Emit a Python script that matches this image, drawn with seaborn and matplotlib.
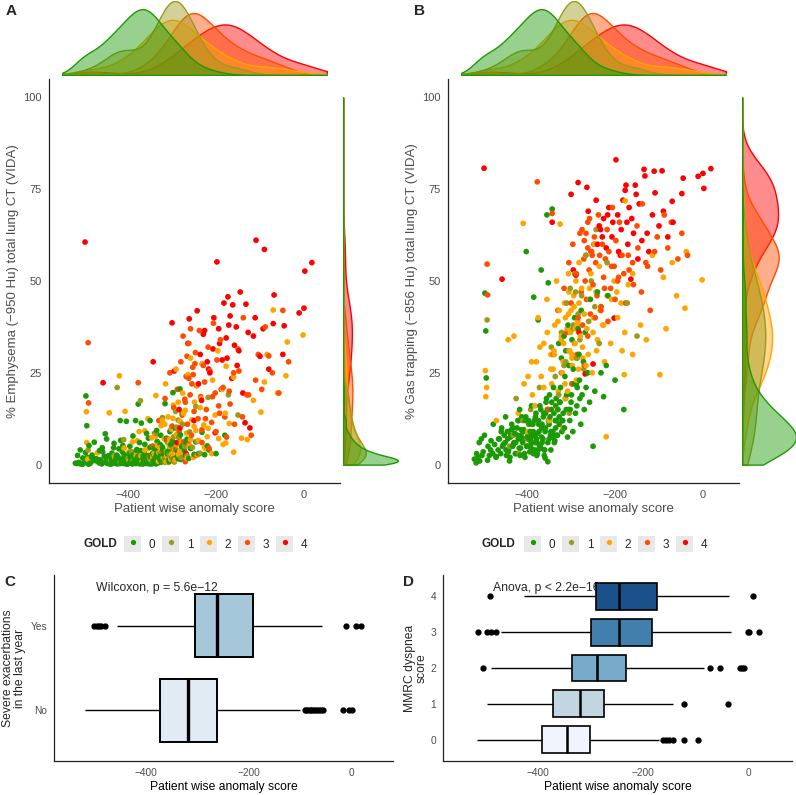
import pandas as pd
import seaborn as sns
import matplotlib.pyplot as plt
from matplotlib.patches import Patch
from matplotlib.lines import Line2D

W, H = 796, 795

gold0_score = [-520, -386, -516, -378, -512, -369, -508, -361, -504, -353, -500, -346, -496, -494, -493, -392, -490, -384, -486, -375,
               -482, -367, -478, -359, -474, -351, -470, -343, -466,
               -463, -460, -458, -456, -452, -450, -447, -445, -442, -440, -438, -435, -433, -430, -428, -425, -423, -420, -418, -416,
               -414, -412, -410, -408, -406, -404, -402, -401, -399,
               -397, -395, -393, -391, -389, -387, -385, -383, -381, -379, -377, -375, -373, -371, -370, -368, -366, -364, -362, -360,
               -358, -356, -355, -354, -352, -350, -348, -346, -344, -343, -342, -340, -338, -336, -334, -332, -330,
               -328, -326, -324, -322, -320, -316, -314, -312, -310, -307, -305, -302, -298, -295, -292, -288, -284, -282, -280, -277,
               -272, -268, -262, -256, -250, -246, -240, -232, -226, -220, -216, -200, -180,
               -448, -444, -439, -436, -431, -427, -422, -419, -415, -411, -409, -405, -403, -400, -398, -396, -394, -392, -390, -388,
               -386, -384, -382, -380, -378, -376, -374, -372, -369, -367, -365, -363, -361, -359, -357, -353, -351, -349, -347, -345,
               -341, -339, -337, -335, -333, -331, -327, -325, -321, -318, -315, -311, -308, -303, -300, -296, -290, -286, -278, -270,
               -515, -509, -503, -497, -489, -483, -477, -471, -465, -459, -454, -449, -443, -437, -432, -426, -421, -417, -413, -407,
               -396, -389, -381, -374, -366, -358, -350, -342, -335, -327, -319, -313, -306, -299, -293, -287, -281, -275, -266, -258]
gold0_emph = [0.4, 1.0, 0.3, 2.2, 0.6, 0.8, 0.2, 1.5, 0.1, 0.9, 0.5, 1.2, 18.7, 10.6, 2.0, 0.7, 0.1, 1.8, 0.4, 0.7,
              2.6, 0.3, 1.1, 0.4, 1.6, 0.2, 0.9, 2.8, 0.5,
              1.3, 0.2, 3.5, 0.6, 8.4, 1.0, 0.3, 2.4, 0.8, 0.1, 1.7, 0.4, 4.6, 0.6, 1.4, 0.2, 2.1, 0.9, 12.0, 0.4,
              1.5, 5.2, 0.3, 2.3, 0.7, 11.8, 1.1, 0.2, 3.0,
              0.5, 1.9, 0.8, 0.3, 2.6, 0.6, 1.4, 12.0, 0.4, 2.0, 16.5, 1.0, 0.2, 3.8, 11.3, 0.7, 1.6, 0.3, 5.5, 0.9,
              2.1, 0.4, 1.3, 7.2, 0.6, 12.0, 1.8, 0.2, 3.1, 0.8, 1.2, 4.4, 0.5, 2.4, 6.3, 0.9, 3.6,
              1.5, 8.0, 0.7, 4.8, 2.2, 16.6, 1.1, 6.5, 2.9, 0.8, 9.0, 3.3, 19.6, 1.6, 5.7, 2.4, 7.5, 20.6, 1.4, 14.0,
              3.9, 6.0, 1.7, 4.5, 2.8, 6.2, 3.0, 8.8, 2.7, 5.1, 4.0, 3.0, 8.0,
              0.5, 1.1, 0.2, 0.9, 0.4, 2.0, 0.6, 0.3, 1.2, 0.5, 2.7, 0.8, 0.1, 1.6, 0.4, 3.2, 0.7, 1.3, 0.2, 2.2,
              0.5, 1.0, 0.3, 4.1, 0.6, 1.7, 0.4, 2.9, 0.9, 0.2, 1.5, 3.4, 0.5, 1.1, 0.3, 2.5, 0.8, 1.9, 0.4, 5.0,
              0.6, 1.4, 0.2, 3.0, 1.0, 0.5, 2.3, 0.9, 4.2, 1.3, 0.7, 3.5, 1.2, 5.4, 2.0, 0.9, 3.8, 1.6, 4.9, 2.5,
              2.5, 4.0, 1.8, 3.3, 5.2, 2.0, 6.1, 1.5, 3.8, 4.6, 2.3, 7.0, 1.9, 3.1, 5.8, 2.6, 4.3, 6.6, 3.5, 2.1,
              5.0, 7.8, 3.9, 6.0, 2.4, 8.5, 4.7, 3.2, 9.3, 5.5, 2.8, 7.2, 4.0, 6.4, 10.0, 3.6, 8.1, 5.3, 6.9, 4.4]
gold0_gas = [1.5, 3, 0.5, 6, 2, 4.5, 1, 2.5, 7, 0.8, 3.5, 9, 46.7, 36.4, 23.6, 5, 1.2, 8, 2.5, 4,
             6.5, 10, 3, 1.8, 5.5, 12, 2.2, 7.5, 4,
             7, 3, 10, 5, 8, 6, 2.5, 9, 4, 1, 7.5, 11, 5, 6, 8.5, 3, 10, 7, 4.5, 2.5,
             8, 13, 6, 9.5, 3, 12, 58, 5, 7.5,
             12, 5, 9, 6, 8, 11, 45.6, 4, 13, 7, 3, 39.4, 9, 16, 5, 53, 11, 7, 14, 4,
             10, 18, 68, 15, 49.5, 7, 13, 4, 17, 69.6, 9, 21, 6, 12, 18, 8, 15,
             33, 17, 21, 29, 12, 35, 24, 31, 19, 38, 27, 15, 34, 26, 40, 22, 37, 30, 18, 42,
             28, 36, 25, 45, 5, 20, 47, 25, 18.5, 27, 46, 23, 15,
             4, 7, 2, 9.5, 5.5, 3, 8, 12, 4.5, 6.5, 9, 2, 13, 5, 8, 11, 3.5, 7, 16, 4,
             9, 12, 6, 14, 2.5, 8.5, 11, 5, 15, 7.5, 10, 13, 4, 9, 17, 6, 12, 19, 8, 15,
             8, 14, 6.5, 10, 12, 8, 11, 17, 9, 14, 10, 15, 7.5, 12, 17, 9, 14, 21, 11, 15,
             3, 6, 2.5, 8, 5, 4, 11, 2, 7, 9, 5.5, 13, 3.5, 8, 10, 6, 12, 15, 9.5, 7,
             7, 11, 8, 12, 6, 14, 11, 9, 16, 13, 12, 18, 15, 19, 22, 16, 23, 19, 21, 17]

gold1_score = [-491, -440, -432, -425, -418, -410, -400, -392, -372, -345, -336, -328, -322, -318, -316, -312, -310, -306, -304, -302,
               -298, -296, -295, -292, -290, -288, -286, -284, -280, -276, -271, -266, -260, -254, -246, -243, -236, -218, -172, -150]
gold1_emph = [4.0, 1.2, 2.5, 21.0, 0.6, 6.8, 1.8, 3.5, 17.4, 1.0, 8.5, 3.0, 12.8, 0.9, 1.6, 2.2, 6.0, 2.8, 5.5, 9.7,
              4.3, 7.6, 0.7, 14.5, 10.2, 3.8, 12.1, 7.2, 1.9, 11.0, 5.0, 2.4, 8.9, 4.7, 15.8, 6.3, 3.1, 18.3, 19.0, 13.5]
gold1_gas = [39.4, 5, 8, 18, 3, 12, 7, 15, 21, 32, 24, 19, 36, 10, 27, 28, 44, 31, 14, 48,
             22, 37, 38, 52, 47, 29, 29, 41, 34, 46, 26, 57, 39, 50, 43, 64, 33, 55, 44, 35]

gold2_score = [-495, -494, -492, -470, -443, -430, -420, -409, -407, -398,
               -390, -382, -375, -368, -362, -355, -350,
               -346, -344, -341, -339, -337, -333, -331, -329, -327, -325,
               -322, -320, -318, -317, -315, -313, -312, -309, -308, -306,
               -305, -303, -301, -300, -298, -297, -294, -293, -291, -289,
               -288, -286, -285, -283, -282, -279, -276, -273, -270, -267,
               -264, -261, -258, -255, -252, -249, -246, -243, -240, -236,
               -232, -228, -224, -220, -208, -196, -184, -179, -177, -160,
               -142, -129, -115, -98, -90, -84, -70, -60, -41, -38,
               -2,
               -398, -388, -379, -371, -362, -354, -346, -338, -330, -322,
               -314, -306, -298, -290, -282, -274, -266, -258, -250, -242,
               -234, -226, -218, -210, -202, -194, -186, -178, -170, -160]
gold2_emph = [14.4, 6.0, 1.5, 3.2, 14.1, 2.0, 24.2, 4.5, 14.5, 1.0,
              6.2, 2.5, 9.0, 0.8, 4.0, 12.5, 1.6,
              7.3, 2.2, 3.0, 8.0, 18.8, 5.2, 0.9, 1.2, 4.6, 10.6,
              3.8, 1.8, 7.0, 11.0, 22.0, 3.6, 2.3, 13.0, 0.6, 5.8,
              6.9, 1.5, 2.9, 9.6, 12.6, 16.2, 4.1, 1.3, 26.0, 5.4,
              7.9, 17.0, 2.7, 3.0, 11.8, 6.0, 19.5, 3.4, 14.8, 8.6,
              24.5, 5.1, 29.0, 12.2, 2.0, 17.0, 9.3, 21.7, 6.6, 15.5,
              27.5, 10.8, 4.3, 7.6, 23.0, 31.0, 5.5, 14.0, 26.8, 23.8,
              7.2, 6.8, 17.5, 14.3, 22.5, 30.0, 42.1, 19.5, 24.2, 33.4,
              35.3,
              3.5, 1.0, 6.5, 2.4, 9.2, 4.4, 1.1, 7.8, 3.2, 12.0,
              0.8, 5.0, 2.1, 8.3, 3.9, 14.0, 1.7, 6.8, 10.4, 2.6,
              18.0, 4.7, 9.9, 3.0, 13.5, 7.1, 20.5, 5.9, 11.2, 3.4]
gold2_gas = [25.6, 18.5, 21, 12, 34, 35, 14, 65.7, 22, 9,
             28, 16, 40, 24, 33, 45, 12,
             30, 22, 26, 31, 38, 50, 15, 20, 42, 65.5,
             35, 25, 28, 33, 44, 40, 18, 37, 20, 52,
             47, 31, 36, 42, 30, 27, 46, 43, 33, 50,
             23, 38, 39, 26, 55, 35, 48, 29, 41, 57,
             37, 30, 45, 52, 25, 40, 60, 47, 34, 54,
             43, 38, 28, 7.6, 45, 47, 31, 24.5, 71.8, 52,
             38, 34, 57, 24.5, 51, 37, 55, 46, 42.6, 58,
             50.3,
             24, 19, 28, 32, 21, 36, 26, 30, 39, 34,
             22, 41, 29, 37, 44, 32, 27, 48, 36, 31,
             42, 38, 46, 33, 50, 40, 44, 36, 49, 30]

gold3_score = [-491, -490, -377, -352, -343, -340, -330, -322, -316, -310,
               -305, -300, -298, -296, -292, -288, -286, -284, -280, -277,
               -275, -274, -271, -270, -270, -268, -266, -265, -262, -262,
               -262, -259, -258, -256, -255, -253, -252, -250, -248, -247,
               -245, -244, -241, -238, -235, -232, -229, -226, -222, -218,
               -214, -210, -206, -202, -198, -194, -190, -180, -170, -160,
               -150, -138, -126, -104, -96, -88, -80, -72, -57, -48,
               -35,
               -232, -224, -216, -208, -200, -192, -184, -176, -168, -158, -148, -140, -130, -120, -110]
gold3_emph = [33.2, 16.8, 22.3, 2.0, 5.0, 8.5, 12.0, 3.5, 18.0, 7.0,
              25.0, 10.5, 1.5, 15.5, 4.2, 20.5, 3.0, 9.0, 28.0, 13.5,
              35.0, 6.2, 17.8, 0.8, 17.0, 24.0, 29.5, 11.0, 33.0, 23.5,
              5.5, 19.0, 37.0, 8.0, 22.0, 26.5, 24.5, 14.5, 27.5, 30.5,
              2.5, 21.5, 12.5, 36.5, 18.5, 9.5, 27.0, 22.5, 15.0, 32.0,
              25.5, 11.5, 38.5, 19.5, 28.5, 16.0, 34.0, 13.0, 20.0, 25.0,
              31.5, 40.0, 19.0, 30.0, 20.5, 37.5, 29.6, 25.0, 19.5, 42.0,
              28.0,
              6.0, 12.5, 4.5, 18.5, 9.0, 14.0, 21.0, 7.5, 16.5, 11.0, 25.5, 13.0, 19.0, 8.0, 23.0]
gold3_gas = [54.6, 46.2, 77, 15, 68.4, 30, 42, 25, 48, 36,
             55, 44, 22, 60, 33, 52, 30, 40, 63, 47,
             64, 38, 56, 27, 61, 50, 63, 45, 66, 59,
             35, 53, 67, 41, 58, 58, 57, 49, 60, 62,
             40, 55, 46, 68, 57, 43, 60, 51, 56, 64,
             58, 48, 70, 54, 61, 50, 66, 52, 57, 55,
             65, 71, 54, 62, 53, 68, 59, 66, 56, 63,
             57,
             42, 48, 39, 54, 45, 51, 57, 44, 53, 49, 59, 47, 55, 42, 58]

gold4_score = [-498, -457, -343, -300, -295, -289, -284, -282, -268, -264,
               -261, -250, -243, -240, -233, -226, -220, -214, -207, -202,
               -198, -194, -188, -182, -177, -175, -173, -168, -164, -158,
               -154, -152, -145, -139, -134, -132, -123, -115, -111, -109,
               -100, -93, -90, -80, -70, -68, -48, -45, -11, 0,
               2, 18,
               -236, -229, -217, -205, -192, -186, -171, -162, -148, -127]
gold4_emph = [60.6, 22.3, 28.0, 38.6, 25.5, 6.0, 15.0, 10.0, 3.0, 33.0,
              39.7, 12.0, 41.9, 22.0, 17.5, 36.5, 28.0, 25.0, 31.5, 8.7,
              55.2, 37.0, 20.5, 44.0, 34.5, 29.0, 45.7, 40.5, 23.5, 32.5,
              37.5, 27.0, 47.0, 19.5, 11.4, 43.7, 10.0, 35.0, 40.0, 61.1,
              29.5, 37.0, 58.6, 26.0, 38.4, 46.2, 30.0, 37.8, 41.3, 42.6,
              52.7, 55.0,
              30.0, 35.5, 26.0, 40.0, 33.0, 28.5, 38.0, 43.5, 31.0, 36.0]
gold4_gas = [80.7, 50.5, 66, 73.6, 53, 51.6, 76.8, 36, 24.7, 75.5,
             69, 27.4, 72, 60, 64, 67, 59, 70, 62, 39.9,
             83, 68, 57, 72, 74.7, 76.1, 66, 70, 50.5, 63,
             76.1, 73.6, 71, 61, 80.4, 78.6, 58, 68, 79.9, 74,
             65, 80, 69, 62, 71.7, 66, 73.8, 78, 78.5, 79.3,
             75.2, 80.6,
             65, 62, 68, 66, 58, 64, 60, 67, 56, 63]

gold_levels = ['0', '1', '2', '3', '4']
gold_colors = ['#1c9a06', '#9b9a1c', '#ffa500', '#ff4d00', '#ff0000']

# panel C: severe exacerbations in the last year
exac_order = ['Yes', 'No']
exac_colors = ['#9ecae1', '#deebf7']
exac_yes = [-502, -497, -493, -488, -480, -457, -420, -380, -345, -320, -304, -298, -292, -287, -281, -277, -272, -268, -265, -263,
            -261, -255, -248, -240, -232, -225, -216, -208, -201, -196, -192, -180, -160, -140, -115, -95, -75, -57, -10, 10, 19]
exac_no = [-520, -505, -490, -478, -466, -455, -446, -437, -429, -421, -414, -407, -400, -394, -389, -384, -380, -376, -373,
           -370, -367, -364, -361, -358, -355, -352, -349, -346, -343, -340, -337, -334, -331, -328, -324, -321, -318,
           -315, -312, -309, -306, -303, -300, -296, -293, -290, -287, -284, -280, -277, -273, -270, -267, -264, -261,
           -240, -200, -150, -100, -90, -87, -84, -81, -78, -75, -71, -67, -63, -59, -55, -16, -4, 1]

# panel D: MMRC dyspnea score
mmrc_order = ['4', '3', '2', '1', '0']
mmrc_colors = ['#08519c', '#3182bd', '#6baed6', '#bdd7e7', '#eff3ff']
mmrc_4 = [-490, -427, -380, -340, -305, -289, -280, -270, -262, -254, -247, -235, -220, -205, -188, -174, -150, -110, -75, -38, 8]
mmrc_3 = [-513, -496, -489, -479, -470, -400, -340, -299, -290, -282, -274, -266, -258, -252, -247, -240, -230, -218, -205, -195,
          -188, -183, -150, -110, -70, -34, -2, 0, 19]
mmrc_2 = [-505, -489, -450, -410, -380, -360, -345, -336, -328, -320, -312, -305, -298, -292, -287, -280, -272, -264, -256, -248,
          -240, -232, -190, -84, -74, -55, -17, -13, -9]
mmrc_1 = [-496, -460, -420, -395, -380, -372, -360, -348, -338, -328, -321, -312, -302, -292, -282, -274, -250, -210, -143, -122, -40]
mmrc_0 = [-515, -480, -455, -435, -420, -408, -400, -393, -386, -379, -372, -365, -358, -351, -345, -339, -332, -325, -318, -311,
          -306, -302, -170, -163, -157, -151, -143, -122, -96]

score_label = 'Patient wise anomaly score'
grey_txt = '#4d4d4d'
line_col = '#222222'


def px_axes(fig, left, top, right, bottom):
    # axes placed in pixel coordinates of the 796x795 canvas
    return fig.add_axes([left / W, 1 - bottom / H, (right - left) / W, (bottom - top) / H])


def style_axis(ax, labelsize, labelcolor):
    sns.despine(ax=ax)
    for side in ['left', 'bottom']:
        ax.spines[side].set_color(line_col)
        ax.spines[side].set_linewidth(0.9)
    ax.tick_params(labelsize=labelsize, labelcolor=labelcolor, color=line_col, length=3, width=0.8, pad=2)


def scatter_panel(fig, patients, ycol, ylabel, main_box, top_box, side_box):
    ax = px_axes(fig, *main_box)
    sns.scatterplot(data=patients, x='score', y=ycol, hue='GOLD', hue_order=gold_levels, palette=gold_colors,
                    s=17, linewidth=0, legend=False, ax=ax)
    ax.set_xlim(-580, 82)
    ax.set_ylim(-5, 105)
    ax.set_xticks([-400, -200, 0])
    ax.set_yticks([0, 25, 50, 75, 100])
    ax.set_xlabel(score_label, fontsize=9.5, color=grey_txt, labelpad=2)
    ax.set_ylabel(ylabel, fontsize=9.5, color=grey_txt, labelpad=3)
    style_axis(ax, 8, grey_txt)

    top = px_axes(fig, *top_box)
    sns.kdeplot(data=patients, x='score', hue='GOLD', hue_order=gold_levels, palette=gold_colors, fill=True,
                alpha=0.45, linewidth=1, common_norm=False, bw_adjust=1.0, clip=(-550, 52), cut=10,
                gridsize=500, legend=False, ax=top)
    top.margins(y=0)
    top.set_xlim(-580, 82)
    top.set_ylim(bottom=0)
    top.axis('off')

    side = px_axes(fig, *side_box)
    sns.kdeplot(data=patients, y=ycol, hue='GOLD', hue_order=gold_levels, palette=gold_colors, fill=True,
                alpha=0.45, linewidth=1, common_norm=False, bw_adjust=0.9, clip=(0, 100), cut=100,
                gridsize=600, legend=False, ax=side)
    side.margins(x=0)
    side.set_xlim(left=0)
    side.set_ylim(-5, 105)
    side.axis('off')


def gold_legend(fig, title_x, keys_x, y):
    handles = [(Patch(facecolor='#e8e8e8', edgecolor='none'),
                Line2D([], [], marker='o', ls='', markersize=3.8, markerfacecolor=c, markeredgewidth=0))
               for c in gold_colors]
    fig.legend(handles, gold_levels, loc='center left', bbox_to_anchor=(keys_x / W, 1 - y / H), ncol=5,
               frameon=False, fontsize=8.5, handlelength=1.45, handleheight=1.7, handletextpad=0.62,
               columnspacing=0.6, borderpad=0, borderaxespad=0)
    fig.text(title_x / W, 1 - y / H, 'GOLD', fontsize=8.5, fontweight='bold', va='center', ha='left')


def box_panel(fig, data, col, order, colors, box, lw, med_lw):
    ax = px_axes(fig, *box)
    sns.boxplot(data=data, x='score', y=col, order=order, hue=col, hue_order=order, palette=colors,
                legend=False, width=0.75, linewidth=lw, linecolor='black', whis=1.5, showcaps=False,
                flierprops=dict(marker='o', markersize=3.5, markerfacecolor='black', markeredgecolor='black'),
                medianprops=dict(linewidth=med_lw), whiskerprops=dict(linewidth=1.0), ax=ax)
    ax.set_xlim(-580, 82)
    ax.set_ylim(len(order) - 1 + 0.6, -0.6)
    ax.set_xticks([-400, -200, 0])
    ax.set_xlabel(score_label, fontsize=8.7, color='black', labelpad=2)
    style_axis(ax, 7.3, grey_txt)
    return ax


def run():
    sns.set_style('white')
    plt.rcParams['font.family'] = ['Liberation Sans', 'DejaVu Sans']

    frames = []
    for lvl, s, e, g in zip(gold_levels,
                            [gold0_score, gold1_score, gold2_score, gold3_score, gold4_score],
                            [gold0_emph, gold1_emph, gold2_emph, gold3_emph, gold4_emph],
                            [gold0_gas, gold1_gas, gold2_gas, gold3_gas, gold4_gas]):
        frames.append(pd.DataFrame({'score': s, 'emph': e, 'gas': g, 'GOLD': lvl}))
    patients = pd.concat(frames).sort_values('score', kind='stable').reset_index(drop=True)

    fig = plt.figure(figsize=(W / 100, H / 100), dpi=100)

    # A: emphysema
    scatter_panel(fig, patients, 'emph', '% Emphysema (\u2212950 Hu) total lung CT (VIDA)',
                  (49, 79, 340, 483), (49, 1, 340, 75), (343, 79, 398, 483))
    # B: gas trapping
    scatter_panel(fig, patients, 'gas', '% Gas trapping (\u2212856 Hu) total lung CT (VIDA)',
                  (448, 79, 739, 483), (448, 1, 739, 75), (742, 79, 796, 483))

    gold_legend(fig, 83, 124, 544)
    gold_legend(fig, 482, 524, 544)

    # C: exacerbations
    exac = pd.DataFrame({'score': exac_yes + exac_no,
                         'exac': ['Yes'] * len(exac_yes) + ['No'] * len(exac_no)})
    axc = box_panel(fig, exac, 'exac', exac_order, exac_colors, (54, 575, 393, 761), 1.4, 2.4)
    axc.set_ylabel('Severe exacerbations\nin the last year', fontsize=8.7, labelpad=3, linespacing=1.0)
    axc.text(-498, -0.45, 'Wilcoxon, p = 5.6e\u221212', fontsize=8.8, va='center', ha='left', zorder=1)

    # D: MMRC
    mmrc_frames = []
    for lvl, vals in zip(mmrc_order, [mmrc_4, mmrc_3, mmrc_2, mmrc_1, mmrc_0]):
        mmrc_frames.append(pd.DataFrame({'score': vals, 'mmrc': lvl}))
    mmrc = pd.concat(mmrc_frames)
    axd = box_panel(fig, mmrc, 'mmrc', mmrc_order, mmrc_colors, (443, 575, 792, 761), 1.2, 1.8)
    axd.set_ylabel('MMRC dyspnea\nscore', fontsize=8.7, labelpad=2, linespacing=1.0)
    axd.text(-485, -0.25, 'Anova, p < 2.2e\u221216', fontsize=8.8, va='center', ha='left', zorder=1)

    for tag, x, y in [('A', 11, 11), ('B', 420, 11), ('C', 10, 582), ('D', 409, 582)]:
        fig.text(x / W, 1 - y / H, tag, fontsize=11, fontweight='bold', ha='center', va='center')

    fig.savefig('out.png', dpi=100)


if __name__ == '__main__':
    run()
